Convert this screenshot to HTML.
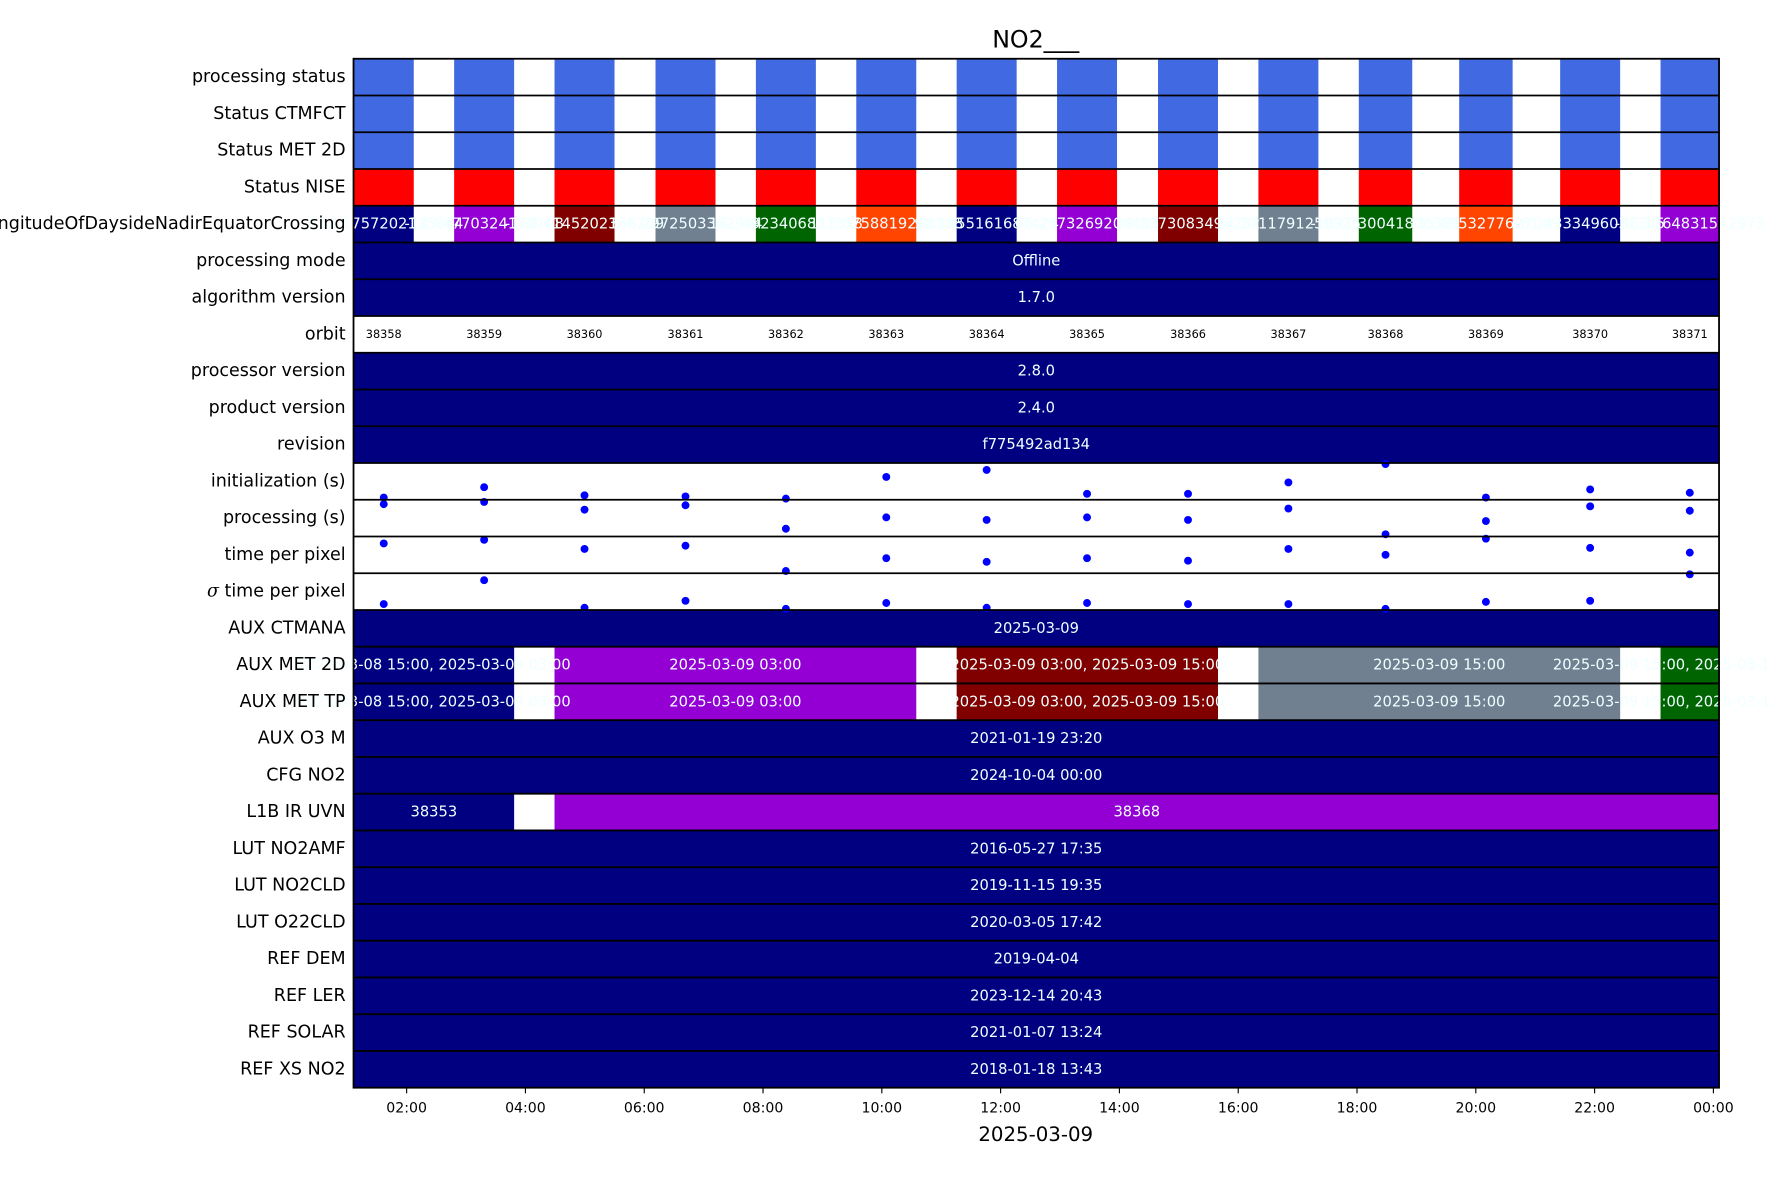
<!DOCTYPE html>
<html><head><meta charset="utf-8"><style>
html,body{margin:0;padding:0;background:#fff}
svg{display:block;font-family:"DejaVu Sans","Liberation Sans",sans-serif}
</style></head><body>
<svg id="chart" width="1771" height="1181" viewBox="0 0 1568 1045.6" xmlns="http://www.w3.org/2000/svg">
<text x="917" y="42" font-size="21" text-anchor="middle">NO2___</text>
<g id="rows"></g>
<g id="xaxis"></g>
<text x="917" y="1010" font-size="17.5" text-anchor="middle">2025-03-09</text>
</svg>
<script>
const rowLabels=["processing status","Status CTMFCT","Status MET 2D","Status NISE","longitudeOfDaysideNadirEquatorCrossing","processing mode","algorithm version","orbit","processor version","product version","revision","initialization (s)","processing (s)","time per pixel","σ time per pixel","AUX CTMANA","AUX MET 2D","AUX MET TP","AUX O3   M","CFG NO2","L1B IR UVN","LUT NO2AMF","LUT NO2CLD","LUT O22CLD","REF DEM","REF LER","REF SOLAR","REF XS NO2"];
const orbits=[38358,38359,38360,38361,38362,38363,38364,38365,38366,38367,38368,38369,38370,38371];
const orbitStart=[1.11,2.80,4.49,6.19,7.88,9.57,11.26,12.95,14.65,16.34,18.03,19.72,21.42,23.11];
const orbitEnd=[2.12,3.81,5.50,7.20,8.89,10.58,12.27,13.96,15.66,17.35,18.93,20.62,22.43,24.12];
const longitudes=["-118.1757202135864","-143.4770324170708","-168.4145202362709","166.2972503362944","141.4923406817358","115.0758819268108","90.1855161687424","65.2573269204483","39.3973083496282","14.2711791259926","-10.6730041800385","-35.6953277627089","-61.4333496031345","-86.1764831542973"];
const longColors=["#000080","#9400d3","#800000","#708090","#006400","#ff4500","#000080","#9400d3","#800000","#708090","#006400","#ff4500","#000080","#9400d3"];
const initVals=[6,34,12,9,3,62,81,16,16,47,97,6,28,19];
const procVals=[88,94,73,85,21,52,45,52,45,76,6,42,82,70];
const tppVals=[81,91,66,75,6,41,31,41,34,66,50,94,69,56];
const sigmaVals=[16,81,6,25,3,19,6,19,16,16,3,22,25,97];
const metStart=[0,4.49,11.26,16.34,23.11];
const metEnd=[3.81,10.58,15.66,22.43,25];
const metText=["2025-03-08 15:00, 2025-03-09 03:00","2025-03-09 03:00","2025-03-09 03:00, 2025-03-09 15:00","2025-03-09 15:00","2025-03-09 15:00, 2025-03-10 03:00"];
const metColors=["#000080","#9400d3","#800000","#708090","#006400"];
const l1bStart=[0,4.49];const l1bEnd=[3.81,30];const l1bText=["38353","38368"];const l1bColors=["#000080","#9400d3"];
const fullText={5:"Offline",6:"1.7.0",8:"2.8.0",9:"2.4.0",10:"f775492ad134",15:"2025-03-09",18:"2021-01-19 23:20",19:"2024-10-04 00:00",21:"2016-05-27 17:35",22:"2019-11-15 19:35",23:"2020-03-05 17:42",24:"2019-04-04",25:"2023-12-14 20:43",26:"2021-01-07 13:24",27:"2018-01-18 13:43"};
const tickHours=[2,4,6,8,10,12,14,16,18,20,22,24];
const tickLabels=["02:00","04:00","06:00","08:00","10:00","12:00","14:00","16:00","18:00","20:00","22:00","00:00"];

const NS="http://www.w3.org/2000/svg";
const L=313,R=1522,T=52,B=963;
const H0=1.106,H1=24.095;
const rowH=(B-T)/rowLabels.length;
function xs(h){return L+(Math.max(H0,Math.min(H1,h))-H0)/(H1-H0)*(R-L);}
function mk(tag,at,parent){const e=document.createElementNS(NS,tag);for(const k in at)e.setAttribute(k,at[k]);parent.appendChild(e);return e;}
const g=document.getElementById('rows');
const clip=mk('clipPath',{id:'pc'},g);mk('rect',{x:L,y:T,width:R-L,height:B-T},clip);
const body=mk('g',{},g);
function cellText(x,y,t,fs,fill,name){const e=mk('text',{x:x,y:y,'font-size':fs,fill:fill,'text-anchor':'middle','dominant-baseline':'central'},body);e.textContent=t;

return e;}
function bar(h0,h1,r,c,name){const e=mk('rect',{x:xs(h0),y:T+r*rowH,width:xs(h1)-xs(h0),height:rowH,fill:c},body);

}
rowLabels.forEach((lab,r)=>{
  const yc=T+(r+0.5)*rowH;
  const t=mk('text',{x:306,y:yc,'font-size':15.5,'text-anchor':'end','dominant-baseline':'central'},g);
  if(r==14){const s=mk('tspan',{'font-style':'italic','font-family':'"DejaVu Serif",serif'},t);s.textContent='σ';const s2=mk('tspan',{},t);s2.textContent=' time per pixel';}
  else t.textContent=lab;
  
  
  if(r<4){orbits.forEach((o,i)=>bar(orbitStart[i],orbitEnd[i],r,r==3?'#ff0000':'#4169e1','status-cell'));}
  else if(r==4){orbits.forEach((o,i)=>bar(orbitStart[i],orbitEnd[i],r,longColors[i],'longitude-cell'));}
  else if(r==7){orbits.forEach((o,i)=>cellText((xs(orbitStart[i])+xs(orbitEnd[i]))/2,yc,String(o),10,'#000','orbit-label'));}
  else if(r==16||r==17){metStart.forEach((s,i)=>bar(s,metEnd[i],r,metColors[i],'aux-met-cell'));}
  else if(r==20){l1bStart.forEach((s,i)=>bar(s,l1bEnd[i],r,l1bColors[i],'l1b-cell'));}
  else if(fullText[r]!==undefined){bar(0,30,r,'#000080','full-row-cell');}
});
rowLabels.forEach((lab,r)=>{
  const yc=T+(r+0.5)*rowH;
  if(r==4){orbits.forEach((o,i)=>cellText((xs(orbitStart[i])+xs(orbitEnd[i]))/2,yc,longitudes[i],13,'#f0ffff','longitude-label'));}
  else if(r==16||r==17){metStart.forEach((s,i)=>cellText((xs(s)+xs(metEnd[i]))/2,yc,metText[i],13,'#f0ffff','aux-met-label'));}
  else if(r==20){l1bStart.forEach((s,i)=>cellText((xs(s)+xs(l1bEnd[i]))/2,yc,l1bText[i],13,'#f0ffff','l1b-label'));}
  else if(fullText[r]!==undefined){cellText((L+R)/2,yc,fullText[r],13,'#f0ffff','row-value');}
});
const dotSeries=[[11,initVals],[12,procVals],[13,tppVals],[14,sigmaVals]];
const dots=mk('g',{'clip-path':'url(#pc)'},g);
dotSeries.forEach(([r,vals])=>{vals.forEach((v,i)=>{
  const cx=(xs(orbitStart[i])+xs(orbitEnd[i]))/2;
  const cy=T+(r+1)*rowH-v/100*rowH;
  const c=mk('circle',{cx:cx,cy:cy,r:3.5,fill:'#0000ff'},dots);
  
  
});});
for(let r=1;r<rowLabels.length;r++){mk('line',{x1:L,x2:R,y1:T+r*rowH,y2:T+r*rowH,stroke:'#000','stroke-width':1.6},g);}
const fr=mk('rect',{x:L,y:T,width:R-L,height:B-T,fill:'none',stroke:'#000','stroke-width':1.6},g);


const xa=document.getElementById('xaxis');
tickHours.forEach((h,i)=>{const x=xs(h);
  mk('line',{x1:x,x2:x,y1:B,y2:B+5,stroke:'#000','stroke-width':1},xa);
  const t=mk('text',{x:x,y:B+22,'font-size':12.5,'text-anchor':'middle'},xa);t.textContent=tickLabels[i];
  
  
});
</script>
</body></html>
